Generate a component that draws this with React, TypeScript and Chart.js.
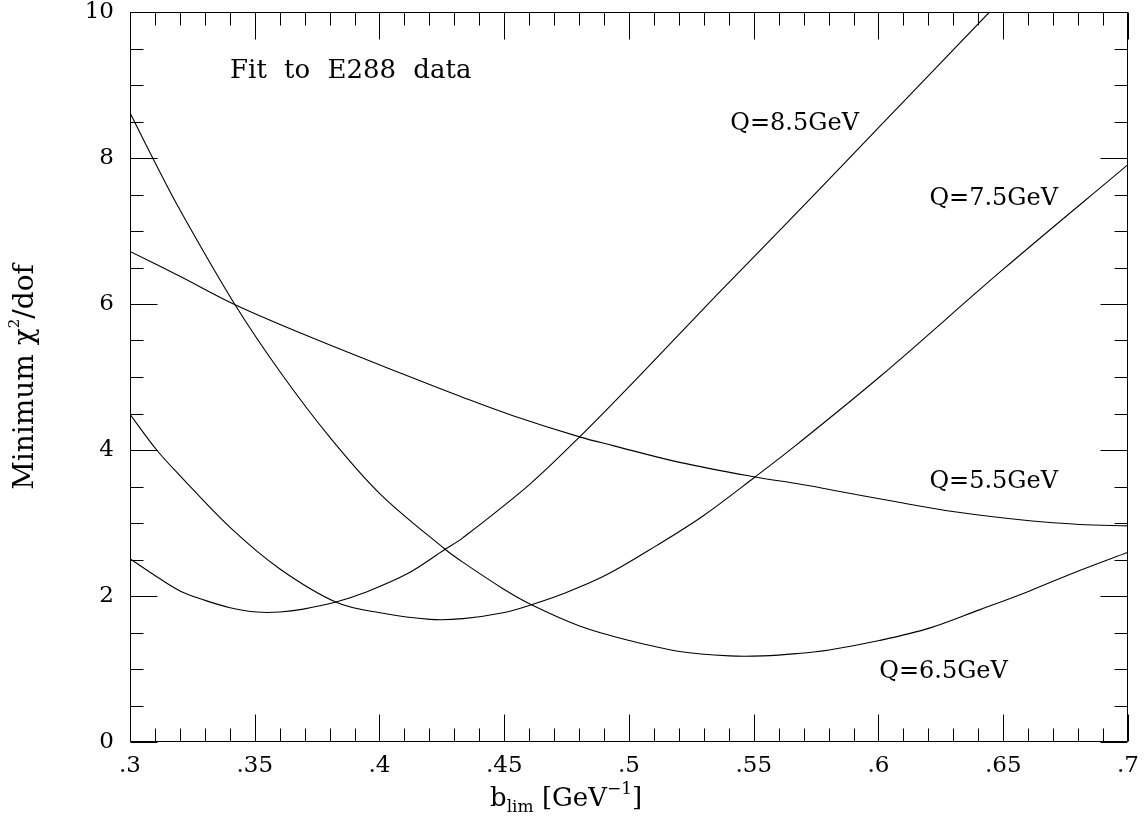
import React, { useEffect, useRef } from "react";
import { Chart, registerables } from "chart.js";
Chart.register(...registerables);

// ---- data ----
const q55X = [0.3, 0.32, 0.3421, 0.3735, 0.4109, 0.4335, 0.4535, 0.4802, 0.4936, 0.5203, 0.5505, 0.5671, 0.5802, 0.6071, 0.6312, 0.6606, 0.6806, 0.7];
const q55Y = [6.72, 6.38, 5.99, 5.53, 5.02, 4.72, 4.47, 4.18, 4.06, 3.83, 3.63, 3.54, 3.46, 3.29, 3.15, 3.03, 2.98, 2.96];

const q65X = [0.3, 0.3091, 0.32, 0.3421, 0.3612, 0.3802, 0.4002, 0.4263, 0.4335, 0.4495, 0.4609, 0.4802, 0.5002, 0.5203, 0.5403, 0.5536, 0.5671, 0.5802, 0.6003, 0.6204, 0.6404, 0.6606, 0.6806, 0.7];
const q65Y = [8.62, 8.0, 7.29, 5.99, 5.02, 4.17, 3.4, 2.64, 2.46, 2.1, 1.88, 1.59, 1.39, 1.24, 1.18, 1.18, 1.21, 1.26, 1.39, 1.56, 1.81, 2.07, 2.35, 2.6];

const q75X = [0.3, 0.3107, 0.32, 0.3401, 0.3601, 0.3829, 0.4002, 0.4203, 0.4335, 0.4495, 0.4609, 0.4736, 0.491, 0.511, 0.5298, 0.5505, 0.5671, 0.6011, 0.6498, 0.7];
const q75Y = [4.49, 4.0, 3.65, 2.94, 2.37, 1.91, 1.77, 1.68, 1.69, 1.77, 1.88, 2.03, 2.29, 2.69, 3.1, 3.63, 4.07, 5.02, 6.47, 7.91];

const q85X = [0.3, 0.31, 0.32, 0.3301, 0.3401, 0.3508, 0.3601, 0.3695, 0.3829, 0.3936, 0.4109, 0.4263, 0.4335, 0.4602, 0.4802, 0.5043, 0.5351, 0.567, 0.6004, 0.6445];
const q85Y = [2.51, 2.28, 2.07, 1.94, 1.84, 1.78, 1.78, 1.82, 1.92, 2.04, 2.3, 2.64, 2.8, 3.53, 4.18, 5.02, 6.12, 7.24, 8.43, 10.0];

const xTickLabels = [".3", ".35", ".4", ".45", ".5", ".55", ".6", ".65", ".7"];
const yTickLabels = ["0", "2", "4", "6", "8", "10"];

// annotation texts and their anchor (data units)
const noteTexts = ["Fit to E288 data", "Q=8.5GeV", "Q=7.5GeV", "Q=5.5GeV", "Q=6.5GeV"];
const noteX = [0.3401, 0.5406, 0.6204, 0.6204, 0.6003];
const noteY = [9.09, 8.39, 7.36, 3.48, 0.88];

const FONT = '"DejaVu Serif", serif';

const toPts = (xs: number[], ys: number[]) => xs.map((x, i) => ({ x, y: ys[i] }));

const isMajorX = (v: number) => Math.abs(v * 20 - Math.round(v * 20)) < 1e-6;
const isMajorY = (v: number) => Math.abs(v / 2 - Math.round(v / 2)) < 1e-6;

const overlay = {
  id: "overlay",
  afterDraw(chart: any) {
    const { ctx, chartArea: a, scales } = chart;
    const xs = scales.x;
    const ys = scales.y;
    ctx.save();
    ctx.strokeStyle = "#000";
    ctx.lineWidth = 1;
    const L = Math.round(a.left) + 0.5;
    const R = Math.round(a.right) - 0.5;
    const T = Math.round(a.top) + 0.5;
    const B = Math.round(a.bottom) - 0.5;
    ctx.beginPath();
    ctx.rect(L, T, R - L, B - T);
    ctx.stroke();
    ctx.beginPath();
    xs.ticks.forEach((t: any) => {
      const px = Math.round(xs.getPixelForValue(t.value)) + 0.5;
      const len = isMajorX(t.value) ? 27 : 13;
      ctx.moveTo(px, B);
      ctx.lineTo(px, B - len);
      ctx.moveTo(px, T);
      ctx.lineTo(px, T + len);
    });
    ys.ticks.forEach((t: any) => {
      const py = Math.round(ys.getPixelForValue(t.value)) + 0.5;
      const len = isMajorY(t.value) ? 27 : 13;
      ctx.moveTo(L, py);
      ctx.lineTo(L + len, py);
      ctx.moveTo(R, py);
      ctx.lineTo(R - len, py);
    });
    ctx.stroke();

    // annotations
    ctx.fillStyle = "#000";
    ctx.textAlign = "left";
    ctx.textBaseline = "alphabetic";
    noteTexts.forEach((txt, i) => {
      ctx.font = (i === 0 ? "26px " : "24px ") + FONT;
      (ctx as any).wordSpacing = i === 0 ? "9px" : "0px";
      ctx.fillText(txt, xs.getPixelForValue(noteX[i]), ys.getPixelForValue(noteY[i]));
    });
    (ctx as any).wordSpacing = "0px";

    // x axis title: b_lim [GeV^-1]
    const baseY = 806;
    const big = "26px " + FONT;
    const small = "17px " + FONT;
    const parts: [string, string, number][] = [
      ["b", big, 0],
      ["lim", small, 6],
      [" [GeV", big, 0],
      ["\u22121", small, -12],
      ["]", big, 0],
    ];
    let px = 490;
    parts.forEach(([s, f, dy]) => {
      ctx.font = f;
      ctx.fillText(s, px, baseY + dy);
      px += ctx.measureText(s).width;
    });

    // y axis title: Minimum χ²/dof (rotated)
    const cy = (a.top + a.bottom) / 2;
    const ybig = "28px " + FONT;
    ctx.translate(33, cy);
    ctx.rotate(-Math.PI / 2);
    const yparts: [string, string, number][] = [
      ["Minimum \u03c7", ybig, 0],
      ["2", "15px " + FONT, -14],
      ["/dof", ybig, 0],
    ];
    let total = 0;
    yparts.forEach(([s, f]) => { ctx.font = f; total += ctx.measureText(s).width; });
    px = -total / 2;
    yparts.forEach(([s, f, dy]) => {
      ctx.font = f;
      ctx.fillText(s, px, dy);
      px += ctx.measureText(s).width;
    });
    ctx.restore();
  },
};

export default function App() {
  const ref = useRef<HTMLCanvasElement | null>(null);
  useEffect(() => {
    document.body.style.margin = "0";
    const canvas = ref.current!;
    const line = (pts: { x: number; y: number }[]) => ({
      data: pts,
      borderColor: "#000",
      borderWidth: 1.1,
      pointRadius: 0,
      fill: false,
      tension: 0.35,
    });
    const chart = new Chart(canvas, {
      type: "line",
      data: {
        datasets: [
          line(toPts(q55X, q55Y)),
          line(toPts(q65X, q65Y)),
          line(toPts(q75X, q75Y)),
          line(toPts(q85X, q85Y)),
        ],
      },
      options: {
        animation: false,
        responsive: false,
        devicePixelRatio: 1,
        layout: { padding: { top: 12, right: 18, left: 0, bottom: 0 } },
        plugins: { legend: { display: false }, tooltip: { enabled: false } },
        scales: {
          x: {
            type: "linear",
            min: 0.3,
            max: 0.7,
            grid: { display: false, drawTicks: false },
            border: { display: false },
            ticks: {
              stepSize: 0.01,
              autoSkip: false,
              maxRotation: 0,
              padding: 10,
              color: "#000",
              font: { family: FONT, size: 23 },
              callback: (v: any) => {
                const n = Number(v);
                return isMajorX(n) ? xTickLabels[Math.round((n - 0.3) * 20)] : "";
              },
            },
            afterFit: (s: any) => {
              s.height = 75;
              s.paddingLeft = 0;
              s.paddingRight = 0;
              s.paddingTop = 0;
              s.paddingBottom = 0;
            },
          },
          y: {
            type: "linear",
            min: 0,
            max: 10,
            grid: { display: false, drawTicks: false },
            border: { display: false },
            ticks: {
              stepSize: 0.5,
              autoSkip: false,
              padding: 16,
              color: "#000",
              font: { family: FONT, size: 23 },
              callback: (v: any) => {
                const n = Number(v);
                return isMajorY(n) ? yTickLabels[Math.round(n / 2)] : "";
              },
            },
            afterFit: (s: any) => {
              s.width = 130;
              s.paddingTop = 0;
              s.paddingBottom = 0;
              s.paddingLeft = 0;
              s.paddingRight = 0;
            },
          },
        },
      },
      plugins: [overlay],
    });
    return () => chart.destroy();
  }, []);
  return <canvas ref={ref} width={1146} height={817} style={{ display: "block" }} />;
}
